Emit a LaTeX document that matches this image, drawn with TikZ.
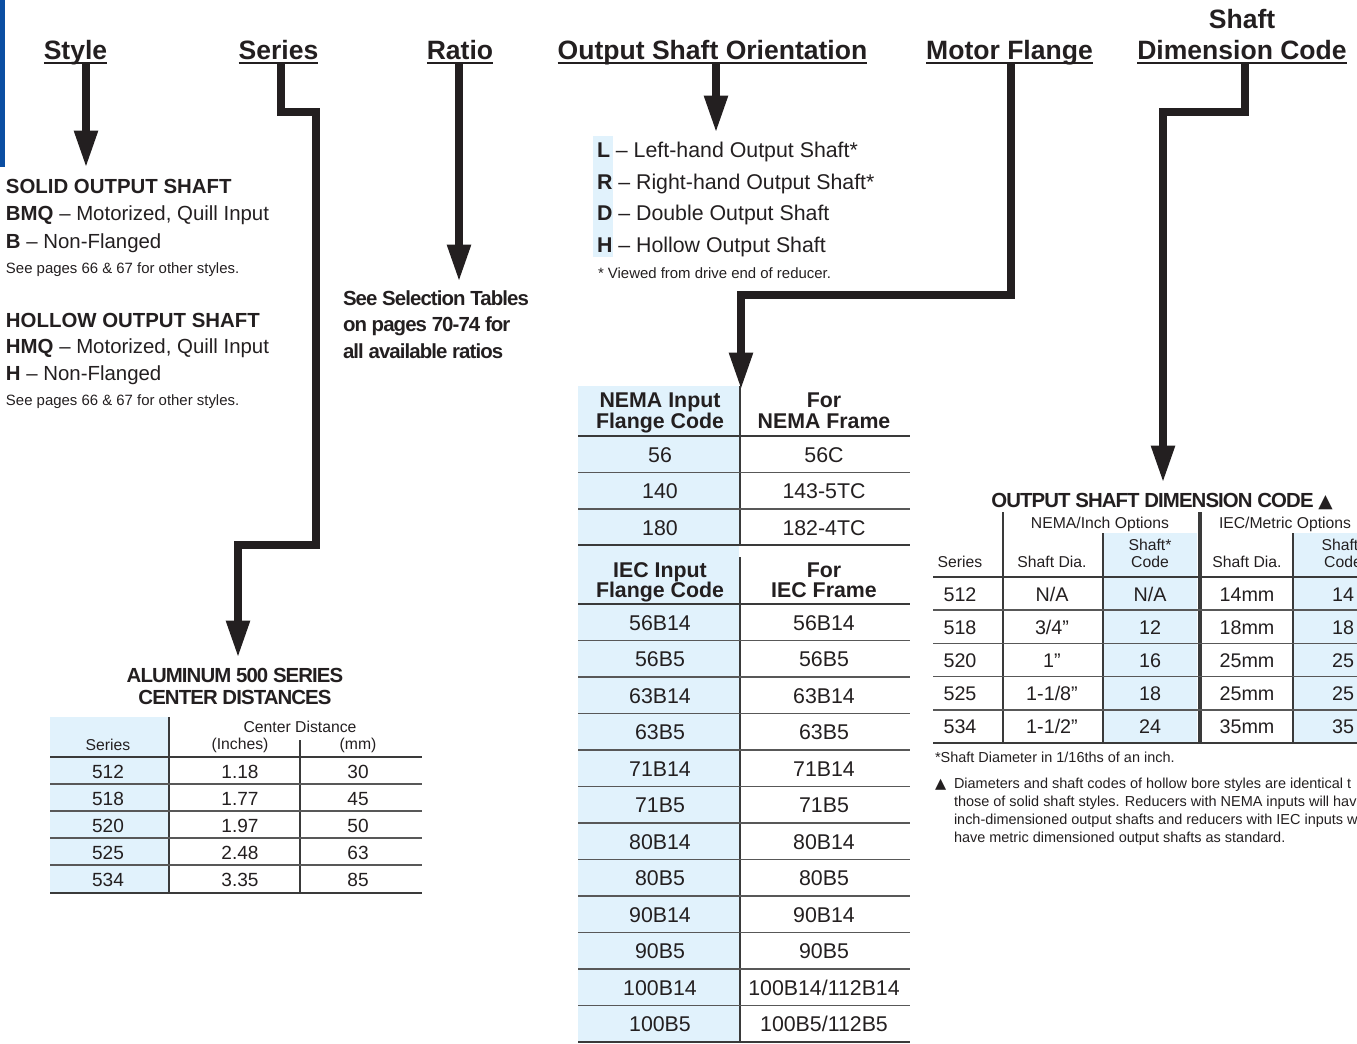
\documentclass[tikz,border=0pt]{standalone}
\usepackage{fontspec}
\setmainfont{Liberation Sans}
\newfontfamily\tightsf[LetterSpace=-4.5]{Liberation Sans}
\newfontfamily\symsf{DejaVu Sans}
\usetikzlibrary{arrows.meta}
\definecolor{ink}{HTML}{231F20}
\definecolor{pale}{HTML}{E1F2FC}
\definecolor{barblue}{HTML}{0B4EA2}
\definecolor{rule}{HTML}{3A3A3A}
\newcommand\hdrfnt{\fontsize{19.9}{22}\selectfont\bfseries}
\newcommand\bodyfnt{\fontsize{15.3}{18}\selectfont}
\newcommand\listfnt{\fontsize{16}{19}\selectfont}
\newcommand\smallfnt{\fontsize{11.2}{13}\selectfont}
\newcommand\titlefnt{\tightsf\fontsize{15.3}{18}\selectfont\bfseries}
\newcommand\alfnt{\fontsize{14.3}{17}\selectfont}
\newcommand\alhfnt{\fontsize{11.8}{14}\selectfont}
\newcommand\nemfnt{\fontsize{16}{19}\selectfont}
\newcommand\sdfnt{\fontsize{14.8}{17}\selectfont}
\newcommand\sdhfnt{\fontsize{11.8}{13}\selectfont}
\newcommand\notefnt{\fontsize{10.85}{13}\selectfont}
\begin{document}
\begin{tikzpicture}[x=0.75pt,y=-0.75pt,
  every node/.style={inner sep=0pt,outer sep=0pt,text=ink},
  hdr/.style={font=\hdrfnt,anchor=base},
  txtl/.style={anchor=base west},
  txtc/.style={anchor=base},
  uline/.style={draw=ink,line width=1.9pt},
  bigarrow/.style={draw=ink,line width=6pt,line join=miter,line cap=butt,
     -{Triangle[length=28pt,width=16.5pt]}},
  thickrule/.style={draw=rule,line width=1.9pt},
  thinrule/.style={draw=rule!85,line width=1.1pt},
  vrule/.style={draw=rule,line width=1.5pt}]
\useasboundingbox (0,0) rectangle (1357,1043);
\clip (0,0) rectangle (1357,1043);

% left blue bar
\fill[barblue] (0,0) rectangle (5,167);

% ---------- headers ----------
\node[hdr] (hstyle) at (75.5,59) {Style};
\node[hdr] (hseries) at (278.5,59) {Series};
\node[hdr] (hratio) at (460,59) {Ratio};
\node[hdr] (horient) at (712.5,59) {Output Shaft Orientation};
\node[hdr] (hmotor) at (1009.5,59) {Motor Flange};
\node[hdr] (hshaft0) at (1242,28) {Shaft};
\node[hdr] (hshaft) at (1242,59) {Dimension Code};
\foreach \h in {hstyle,hseries,hratio,horient,hmotor,hshaft}
  \draw[uline] ([yshift=-3pt]\h.base west) -- ([yshift=-3pt]\h.base east);

% ---------- arrow coordinates ----------
\coordinate (sty-a) at (86,64);   \coordinate (sty-b) at (86,168);
\coordinate (ser-a) at (281,64);  \coordinate (ser-b) at (238,658);
\coordinate (rat-a) at (459,64);  \coordinate (rat-b) at (459,282);
\coordinate (ori-a) at (716,64);  \coordinate (ori-b) at (716,133);
\coordinate (mot-a) at (1011,64); \coordinate (mot-b) at (741,390);
\coordinate (shd-a) at (1245,64); \coordinate (shd-b) at (1163,483);

\draw[bigarrow] (sty-a) -- (sty-b);
\draw[bigarrow] (ser-a) -- (281,111.5) -- (316,111.5) -- (316,545) -- (238,545) -- (ser-b);
\draw[bigarrow] (rat-a) -- (rat-b);
\draw[bigarrow] (ori-a) -- (ori-b);
\draw[bigarrow] (mot-a) -- (1011,295) -- (741,295) -- (mot-b);
\draw[bigarrow] (shd-a) -- (1245,111.5) -- (1163,111.5) -- (shd-b);

% ---------- Style block ----------
\node[txtl,font=\bodyfnt\bfseries] (s1) at (6,193) {SOLID OUTPUT SHAFT};
\node[txtl,font=\bodyfnt] (s2) at (6,220.5) {\textbf{BMQ} – Motorized, Quill Input};
\node[txtl,font=\bodyfnt] (s3) at (6,248) {\textbf{B} – Non-Flanged};
\node[txtl,font=\smallfnt] (s4) at (6,273) {See pages 66 \& 67 for other styles.};
\node[txtl,font=\bodyfnt\bfseries] (s5) at (6,327) {HOLLOW OUTPUT SHAFT};
\node[txtl,font=\bodyfnt] (s6) at (6,353) {\textbf{HMQ} – Motorized, Quill Input};
\node[txtl,font=\bodyfnt] (s7) at (6,380) {\textbf{H} – Non-Flanged};
\node[txtl,font=\smallfnt] (s8) at (6,405) {See pages 66 \& 67 for other styles.};

% ---------- Ratio block ----------
\node[txtl,font=\titlefnt] (r1) at (343,305) {See Selection Tables};
\node[txtl,font=\titlefnt] (r2) at (343,331.5) {on pages 70-74 for};
\node[txtl,font=\titlefnt] (r3) at (343,358) {all available ratios};

% ---------- Orientation list ----------
\fill[pale] (593,136) rectangle (613,257);
\node[txtl,font=\listfnt] (o1) at (597,157) {\textbf{L} – Left-hand Output Shaft*};
\node[txtl,font=\listfnt] (o2) at (597,189) {\textbf{R} – Right-hand Output Shaft*};
\node[txtl,font=\listfnt] (o3) at (597,220) {\textbf{D} – Double Output Shaft};
\node[txtl,font=\listfnt] (o4) at (597,252) {\textbf{H} – Hollow Output Shaft};
\node[txtl,font=\smallfnt] (o5) at (598,278) {* Viewed from drive end of reducer.};

% ---------- Aluminum table ----------
\node[txtc,font=\titlefnt] (alt1) at (235,682) {ALUMINUM 500 SERIES};
\node[txtc,font=\titlefnt] (alt2) at (235,704) {CENTER DISTANCES};
\fill[pale] (50,717) rectangle (169,893);
\draw[vrule] (169,717) -- (169,893);
\draw[vrule] (300,740) -- (300,893);
\draw[thickrule] (50,757) -- (422,757);
\draw[thickrule] (50,893) -- (422,893);
\foreach \yy in {784,811,838,865} \draw[thinrule] (50,\yy) -- (422,\yy);
\node[txtc,font=\alhfnt] (alh1) at (108,750) {Series};
\node[txtc,font=\alhfnt] (alh2) at (300,732) {Center Distance};
\node[txtc,font=\alhfnt] (alh3) at (240,749) {(Inches)};
\node[txtc,font=\alhfnt] (alh4) at (358,749) {(mm)};
\foreach \s/\i/\m [count=\k] in {512/1.18/30,518/1.77/45,520/1.97/50,525/2.48/63,534/3.35/85}{
  \pgfmathsetmacro\by{757+27*\k-13.5+7.5}
  \node[txtc,font=\alfnt] (al\k a) at (108,\by) {\s};
  \node[txtc,font=\alfnt] (al\k b) at (240,\by) {\i};
  \node[txtc,font=\alfnt] (al\k c) at (358,\by) {\m};
}

% ---------- NEMA / IEC table ----------
\fill[pale] (578,386) rectangle (739,1043);
\draw[vrule] (740,386) -- (740,545);
\draw[vrule] (740,557) -- (740,1043);
\foreach \yy in {436,545,604,1042} \draw[thickrule] (578,\yy) -- (910,\yy);
\foreach \yy in {472.5,509} \draw[thinrule] (578,\yy) -- (910,\yy);
\foreach \k in {1,...,11}{
  \pgfmathsetmacro\ly{640.5+36.5*(\k-1)}
  \draw[thinrule] (578,\ly) -- (910,\ly);
}
\node[txtc,font=\nemfnt\bfseries] (nh1) at (660,407) {NEMA Input};
\node[txtc,font=\nemfnt\bfseries] (nh2) at (660,428) {Flange Code};
\node[txtc,font=\nemfnt\bfseries] (nh3) at (824,407) {For};
\node[txtc,font=\nemfnt\bfseries] (nh4) at (824,428) {NEMA Frame};
\foreach \a/\b [count=\k] in {56/56C,140/143-5TC,180/182-4TC}{
  \pgfmathsetmacro\by{436+36.5*\k-18.25+8}
  \node[txtc,font=\nemfnt] (nm\k a) at (660,\by) {\a};
  \node[txtc,font=\nemfnt] (nm\k b) at (824,\by) {\b};
}
\node[txtc,font=\nemfnt\bfseries] (ih1) at (660,577) {IEC Input};
\node[txtc,font=\nemfnt\bfseries] (ih2) at (660,597) {Flange Code};
\node[txtc,font=\nemfnt\bfseries] (ih3) at (824,577) {For};
\node[txtc,font=\nemfnt\bfseries] (ih4) at (824,597) {IEC Frame};
\foreach \a/\b [count=\k] in {56B14/56B14,56B5/56B5,63B14/63B14,63B5/63B5,71B14/71B14,71B5/71B5,80B14/80B14,80B5/80B5,90B14/90B14,90B5/90B5,100B14/100B14\slash 112B14,100B5/100B5\slash 112B5}{
  \pgfmathsetmacro\by{604+36.5*\k-18.25+8}
  \node[txtc,font=\nemfnt] (ie\k a) at (660,\by) {\a};
  \node[txtc,font=\nemfnt] (ie\k b) at (824,\by) {\b};
}

% ---------- Output shaft dimension code table ----------
\node[txtc,font=\titlefnt] (sdt) at (1162,507) {OUTPUT SHAFT DIMENSION CODE {\symsf\fontsize{14}{16}\selectfont ▲}};
\fill[pale] (1103,533) rectangle (1197,743);
\fill[pale] (1293,533) rectangle (1357,743);
\draw[vrule] (1003,512) -- (1003,743);
\draw[draw=rule,line width=3.6pt] (1200,512) -- (1200,743);
\draw[vrule] (1103,533) -- (1103,743);
\draw[vrule] (1293,533) -- (1293,743);
\draw[thickrule] (933,577) -- (1357,577);
\draw[thickrule] (933,743) -- (1357,743);
\foreach \yy in {610.2,643.4,676.6,709.8} \draw[thinrule] (933,\yy) -- (1357,\yy);
\node[txtc,font=\sdhfnt] (sg1) at (1100,528) {NEMA/Inch Options};
\node[txtl,font=\sdhfnt] (sg2) at (1219,528) {IEC/Metric Options};
\node[txtc,font=\sdhfnt] (sh1) at (960,567) {Series};
\node[txtc,font=\sdhfnt] (sh2) at (1052,567) {Shaft Dia.};
\node[txtc,font=\sdhfnt] (sh3) at (1150,550) {Shaft*};
\node[txtc,font=\sdhfnt] (sh4) at (1150,567) {Code};
\node[txtc,font=\sdhfnt] (sh5) at (1247,567) {Shaft Dia.};
\node[txtc,font=\sdhfnt] (sh6) at (1343,550) {Shaft*};
\node[txtc,font=\sdhfnt] (sh7) at (1343,567) {Code};
\foreach \s/\d/\c/\e/\f [count=\k] in {512/N\slash A/N\slash A/14mm/14,518/3\slash 4”/12/18mm/18,520/1”/16/25mm/25,525/1-1\slash 8”/18/25mm/25,534/1-1\slash 2”/24/35mm/35}{
  \pgfmathsetmacro\by{577+33.2*\k-16.6+7.5}
  \node[txtc,font=\sdfnt] (sd\k a) at (960,\by) {\s};
  \node[txtc,font=\sdfnt] (sd\k b) at (1052,\by) {\d};
  \node[txtc,font=\sdfnt] (sd\k c) at (1150,\by) {\c};
  \node[txtc,font=\sdfnt] (sd\k d) at (1247,\by) {\e};
  \node[txtc,font=\sdfnt] (sd\k e) at (1343,\by) {\f};
}

% ---------- notes ----------
\node[txtl,font=\notefnt] (n0) at (935,762) {*Shaft Diameter in 1/16ths of an inch.};
\node[txtl,font=\notefnt\symsf] (ntri) at (935,788) {▲};
\node[txtl,font=\notefnt] (n1) at (954,788) {Diameters and shaft codes of hollow bore styles are identical t};
\node[txtl,font=\notefnt] (n2) at (954,806) {those of solid shaft styles. Reducers with NEMA inputs will hav};
\node[txtl,font=\notefnt] (n3) at (954,824) {inch-dimensioned output shafts and reducers with IEC inputs w};
\node[txtl,font=\notefnt] (n4) at (954,842) {have metric dimensioned output shafts as standard.};
\end{tikzpicture}
\end{document}
